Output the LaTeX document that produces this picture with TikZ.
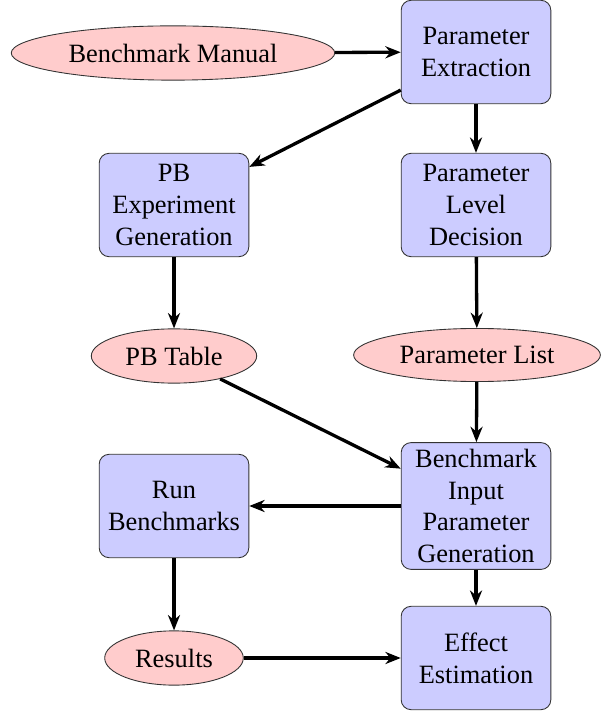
\documentclass[tikz,border=0pt]{standalone}
\usepackage{fontspec}
\setmainfont{Liberation Serif}
\usetikzlibrary{shapes.geometric}
\usetikzlibrary{arrows.meta}
\definecolor{custom-blue}{RGB}{204, 204, 255}
\definecolor{custom-pink}{RGB}{255, 204, 204}
\tikzset{
  block/.style={rectangle, draw=black!80, fill=custom-blue, rounded corners=4.5pt,
    text width=62pt, align=center, minimum height=47pt, inner sep=3pt,
    font=\fontsize{12}{14.4}\selectfont},
  cloud/.style={ellipse, draw=black!80, fill=custom-pink, minimum width=63pt,
    minimum height=23pt, inner sep=4.5pt, font=\fontsize{12}{14.4}\selectfont},
  flow/.style={draw, line width=1.5pt, -{Stealth[length=7pt, width=5.5pt]}}
}
\begin{document}
\begin{tikzpicture}[x=0.4545pt, y=-0.4545pt]
\useasboundingbox (0,0) rectangle (602,712);
\node[cloud] (manual) at (173,53) {Benchmark Manual};
\node[block] (extract) at (476,52) {Parameter Extraction};
\node[block] (pbexp) at (174,205) {PB Experiment Generation};
\node[block] (level) at (476,205) {Parameter Level Decision};
\node[cloud] (pbtable) at (174,356) {PB Table};
\node[cloud] (plist) at (477,355) {Parameter List};
\node[block] (input) at (476,506) {Benchmark Input Parameter Generation};
\node[block] (run) at (174,506) {Run Benchmarks};
\node[cloud] (results) at (174,658) {Results};
\node[block] (effect) at (476,658) {Effect Estimation};
% connectors
\path[flow] (manual) -- (extract);
\path[flow] (extract) -- (pbexp);
\path[flow] (extract) -- (level);
\path[flow] (pbexp) -- (pbtable);
\path[flow] (level) -- (plist);
\path[flow] (pbtable) -- (input);
\path[flow] (plist) -- (input);
\path[flow] (input) -- (run);
\path[flow] (run) -- (results);
\path[flow] (input) -- (effect);
\path[flow] (results) -- (effect);
\end{tikzpicture}
\end{document}
